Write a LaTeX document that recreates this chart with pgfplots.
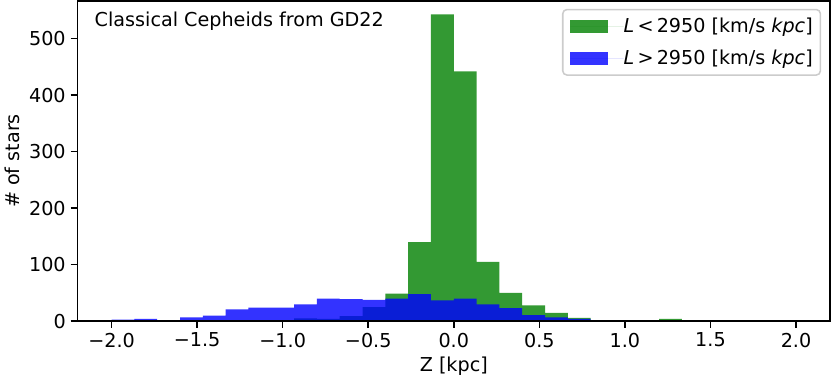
\documentclass[border=0pt]{standalone}
\usepackage{fontspec}
\setmainfont{DejaVu Sans}
\usepackage{pgfplots}
\pgfplotsset{compat=1.18}
\definecolor{mplgreen}{rgb}{0,0.50196,0}
\newcommand{\fs}{\fontsize{13.7}{16}\selectfont}
\begin{document}
\begin{tikzpicture}
\begin{axis}[
  scale only axis, width=538pt, height=229pt,
  xmin=-2.2, xmax=2.2, ymin=0, ymax=567,
  xtick={-2,-1.5,-1,-0.5,0,0.5,1,1.5,2},
  xticklabels={−2.0,−1.5,−1.0,−0.5,0.0,0.5,1.0,1.5,2.0},
  ytick={0,100,200,300,400,500},
  tick align=outside, xtick pos=lower, ytick pos=left,
  major tick length=4.8pt,
  tick style={line width=1.1pt, black},
  axis line style={line width=1.1pt},
  axis on top,
  ticklabel style={font=\fs},
  /pgf/number format/assume math mode=true,
  xlabel={Z [kpc]}, ylabel={\# of stars},
  label style={font=\fs},
  legend style={at={(rel axis cs:0.988,0.975)}, anchor=north east,
    draw=black!20, line width=1.1pt, rounded corners=3pt, fill=white,
    font=\fs, row sep=11pt,
    inner xsep=5.5pt, inner ysep=6pt, nodes={inner sep=0pt}},
  legend cell align=left,
  legend image code/.code={\fill[#1, sharp corners] (0pt,-4.5pt) rectangle (27pt,4.5pt);
    \path (0pt,0pt) -- (38pt,0pt);},
]
\addplot[ybar interval, fill=mplgreen, fill opacity=0.8, draw=none] coordinates {
(-2.0000,0) (-1.8667,0) (-1.7333,0) (-1.6000,0) (-1.4667,0) (-1.3333,0)
(-1.2000,0) (-1.0667,0) (-0.9333,5) (-0.8000,4) (-0.6667,9) (-0.5333,25)
(-0.4000,49) (-0.2667,140) (-0.1333,543) (0.0000,442) (0.1333,105) (0.2667,50)
(0.4000,28) (0.5333,15) (0.6667,6) (0.8000,0) (0.9333,0) (1.0667,0)
(1.2000,4) (1.3333,0) (1.4667,0) (1.6000,0) (1.7333,0) (1.8667,0) (2.0000,0)
};
\addplot[ybar interval, fill=blue, fill opacity=0.8, draw=none] coordinates {
(-2.0000,3) (-1.8667,4) (-1.7333,1) (-1.6000,7) (-1.4667,10) (-1.3333,21)
(-1.2000,24) (-1.0667,24) (-0.9333,30) (-0.8000,40) (-0.6667,39) (-0.5333,38)
(-0.4000,40) (-0.2667,48) (-0.1333,37) (0.0000,40) (0.1333,30) (0.2667,23)
(0.4000,11) (0.5333,7) (0.6667,4) (0.8000,2) (0.9333,2) (1.0667,0)
(1.2000,0) (1.3333,0) (1.4667,0) (1.6000,0) (1.7333,0) (1.8667,1) (2.0000,1)
};
\legend{\textit{L}\,<\,2950 [km/s \textit{kpc}], \textit{L}\,>\,2950 [km/s \textit{kpc}]}
\node[anchor=base west, font=\fs, inner sep=0pt] at (rel axis cs:0.0227,0.921) {Classical Cepheids from GD22};
\end{axis}
\end{tikzpicture}
\end{document}
